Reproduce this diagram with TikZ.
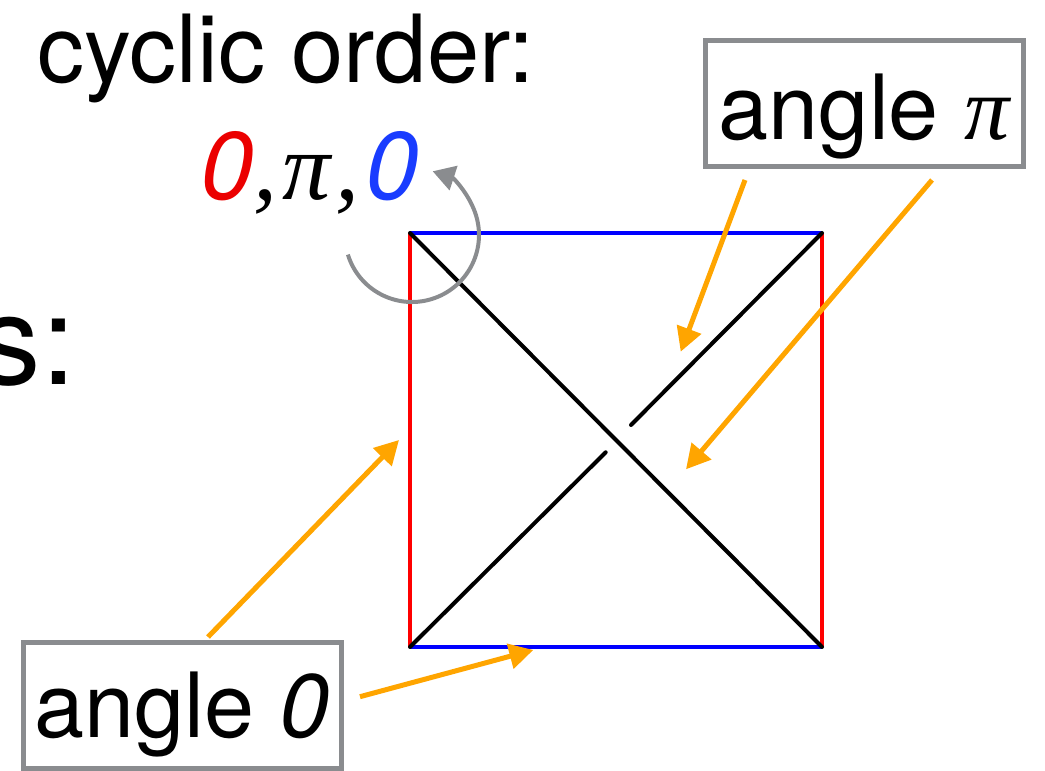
\documentclass[tikz,border=0pt]{standalone}
\usepackage{fontspec}
\setmainfont{TeX Gyre Heros}
\newfontfamily\serifit{Liberation Serif}
\usetikzlibrary{arrows.meta}
\definecolor{boxgray}{RGB}{138,140,143}
\definecolor{orng}{RGB}{255,165,0}
\definecolor{redz}{RGB}{235,0,0}
\definecolor{bluez}{RGB}{25,60,255}
\definecolor{sqred}{RGB}{255,0,0}
\definecolor{sqblue}{RGB}{0,0,255}
\begin{document}
\begin{tikzpicture}[x=1pt,y=1pt,
  redside/.style={draw=sqred,line width=4pt},
  blueside/.style={draw=sqblue,line width=4pt},
  diag/.style={draw=black,line width=4pt,line cap=round},
  labelbox/.style={draw=boxgray,line width=5pt,inner sep=0pt,minimum width=318pt,minimum height=126pt,font=\fontsize{90}{96}\selectfont,text depth=0pt},
  pointer/.style={draw=orng,line width=5pt,-{Triangle[length=24pt,width=25pt]}},
  turn/.style={draw=boxgray,line width=4pt,-{Triangle[length=22pt,width=25pt]}},
  bigtext/.style={inner sep=0pt,font=\fontsize{94}{100}\selectfont}
]
\useasboundingbox (0,0) rectangle (1045,771);
% square corners
\coordinate (TL) at (410,538);
\coordinate (TR) at (822,538);
\coordinate (BL) at (410,124);
\coordinate (BR) at (822,124);
\coordinate (gapA) at (605.7,318.7);
\coordinate (gapB) at (631,346);
% sides
\draw[blueside] (TL) -- (TR);
\draw[blueside] (BL) -- (BR);
\draw[redside] (TL) -- (BL);
\draw[redside] (TR) -- (BR);
% diagonals
\draw[diag] (TL) -- (BR);
\draw[diag] (BL) -- (gapA);
\draw[diag] (gapB) -- (TR);
% texts
\node[bigtext,anchor=base west] (title) at (37,688) {cyclic order:};
\node[inner sep=0pt,anchor=base west,font=\fontsize{96}{100}\selectfont] (order) at (200,571)
  {\textcolor{redz}{\itshape 0}{\serifit\itshape ,\hspace{5pt}π\hspace{5pt},}\hspace{6pt}\textcolor{bluez}{\itshape 0}};
\node[inner sep=0pt,anchor=base east,font=\fontsize{125}{130}\selectfont] (scolon) at (76,386) {s:};
% rotation arrow
\coordinate (arcstart) at (347.9,516.4);
\draw[turn] (arcstart) arc[start angle=197,end angle=432,radius=67];
% boxes
\node[labelbox,text height=72pt] (boxpi) at (864,667) {angle {\serifit\itshape π}};
\node[labelbox,text height=64pt] (boxzero) at (182,65) {angle {\itshape 0}};
% pointer ends
\coordinate (p1s) at (745,591);
\coordinate (p1e) at (680.7,419.3);
\coordinate (p2s) at (932,591);
\coordinate (p2e) at (686,301.7);
\coordinate (p3s) at (208,134);
\coordinate (p3e) at (399,331);
\coordinate (p4s) at (360,74.3);
\coordinate (p4e) at (533.3,121);
\draw[pointer] (p1s) -- (p1e);
\draw[pointer] (p2s) -- (p2e);
\draw[pointer] (p3s) -- (p3e);
\draw[pointer] (p4s) -- (p4e);
\end{tikzpicture}
\end{document}
